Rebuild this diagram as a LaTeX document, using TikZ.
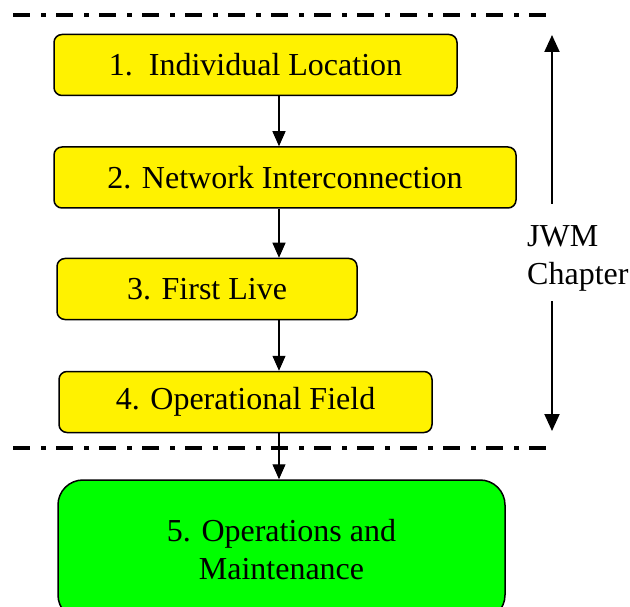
\documentclass[tikz,border=0pt]{standalone}
\usepackage{fontspec}
\setmainfont{Liberation Serif}
\usetikzlibrary{arrows.meta}
\tikzset{
	stage/.style={draw=black, line width=1.5pt, rounded corners=8pt, fill=yellow, minimum height=61pt, inner sep=0pt},
	flow/.style={-{Triangle[width=13pt,length=15pt]}, line width=1.2pt},
	span/.style={-{Triangle[width=15pt,length=17pt]}, line width=2pt},
	cut/.style={line width=4pt, dash pattern=on 17pt off 11pt on 5pt off 10pt},
}

\begin{document}
\begin{tikzpicture}[x=1pt,y=-1pt,font=\fontsize{32}{38}\selectfont]
				\useasboundingbox (0,0) rectangle (630,607);
				
				\draw[cut] (13,15) -- (552,15);
				\draw[cut] (13,448) -- (552,448);
				
				\coordinate (spine) at (279,0);
				
				\node[stage, minimum width=403pt] (loc) at (255.5,65) {1.\ \ Individual Location};
				\node[stage, minimum width=462pt] (net) at (285,177.5) {2. Network Interconnection};
				\node[stage, minimum width=300pt] (live) at (207,289) {3. First Live};
				\node[stage, minimum width=373pt] (field) at (245.5,402) {4. Operational Field};
				\node[stage, fill=green, rounded corners=25pt, minimum width=447pt, minimum height=140pt, align=center] (om) at (281.5,550) {5. Operations and\\Maintenance};
				
				\draw[flow] (loc.south -| spine) -- (net.north -| spine);
				\draw[flow] (net.south -| spine) -- (live.north -| spine);
				\draw[flow] (live.south -| spine) -- (field.north -| spine);
				\draw[flow] (field.south -| spine) -- (om.north -| spine);
				
				\node[anchor=north west, align=left, inner sep=0pt] (jwm) at (527,225) {JWM\\Chapter};
				\coordinate (ctop) at (552,35);
				\coordinate (cbot) at (552,431);
				\coordinate (cupfrom) at (552,204);
				\coordinate (cdownfrom) at (552,301);
				\draw[span] (cupfrom) -- (ctop);
				\draw[span] (cdownfrom) -- (cbot);
\end{tikzpicture}
\end{document}
